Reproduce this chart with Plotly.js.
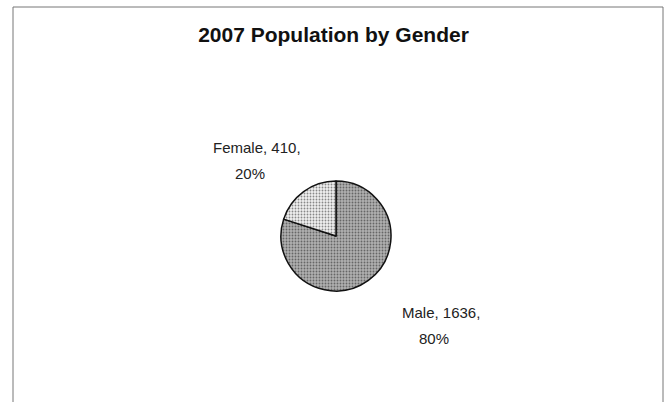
<!DOCTYPE html>
<html>
<head>
<meta charset="utf-8">
<script src="https://cdn.plot.ly/plotly-3.0.1.min.js"></script>
<style>html,body{margin:0;padding:0;background:#fff;}#chart{width:667px;height:402px;}</style>
</head>
<body>
<div id="chart"></div>
<script>
var categories = ["Male", "Female"];
var values = [1636, 410];
var chartTitle = "2007 Population by Gender";

var total = values.reduce(function(a, b){ return a + b; }, 0);
var pcts = values.map(function(v){ return Math.round(v / total * 100) + "%"; });

// label placement (paper coords) per category
var labelPos = [
  {x1: 441 / 667, y1: 1 - 312 / 402, x2: 434 / 667, y2: 1 - 338 / 402},
  {x1: 257 / 667, y1: 1 - 147 / 402, x2: 250 / 667, y2: 1 - 174 / 402}
];

var annotations = [];
categories.forEach(function(c, i){
  annotations.push({xref: "paper", yref: "paper", x: labelPos[i].x1, y: labelPos[i].y1,
    text: c + ", " + values[i] + ",", showarrow: false, xanchor: "center", yanchor: "middle",
    font: {family: "Liberation Sans, Arial, sans-serif", size: 15, color: "#222"}});
  annotations.push({xref: "paper", yref: "paper", x: labelPos[i].x2, y: labelPos[i].y2,
    text: pcts[i], showarrow: false, xanchor: "center", yanchor: "middle",
    font: {family: "Liberation Sans, Arial, sans-serif", size: 15, color: "#222"}});
});

var trace = {
  type: "pie",
  labels: categories,
  values: values,
  sort: false,
  direction: "clockwise",
  rotation: 0,
  textinfo: "none",
  hoverinfo: "label+value+percent",
  showlegend: false,
  domain: {x: [281 / 667, 391 / 667], y: [111 / 402, 221 / 402]},
  marker: {
    colors: ["#b0b0b0", "#f0f0f0"],
    line: {color: "#111", width: 1.5},
    pattern: {shape: [".", "."], fgcolor: ["#666", "#888"], bgcolor: ["#b0b0b0", "#f0f0f0"], size: 3, solidity: 0.3}
  }
};

var layout = {
  width: 667, height: 402,
  margin: {l: 0, r: 0, t: 0, b: 0},
  paper_bgcolor: "#fff",
  title: {text: "<b>" + chartTitle + "</b>", x: 0.5, xanchor: "center", y: 1 - 35 / 402, yanchor: "middle",
    font: {family: "Liberation Sans, Arial, sans-serif", size: 21, color: "#111"}},
  annotations: annotations,
  shapes: [{type: "rect", xref: "paper", yref: "paper", x0: 13 / 667, x1: 663 / 667, y0: -0.01, y1: 1 - 7 / 402,
    line: {color: "#777", width: 1}}]
};

Plotly.newPlot("chart", [trace], layout, {displayModeBar: false, staticPlot: true});
</script>
</body>
</html>
